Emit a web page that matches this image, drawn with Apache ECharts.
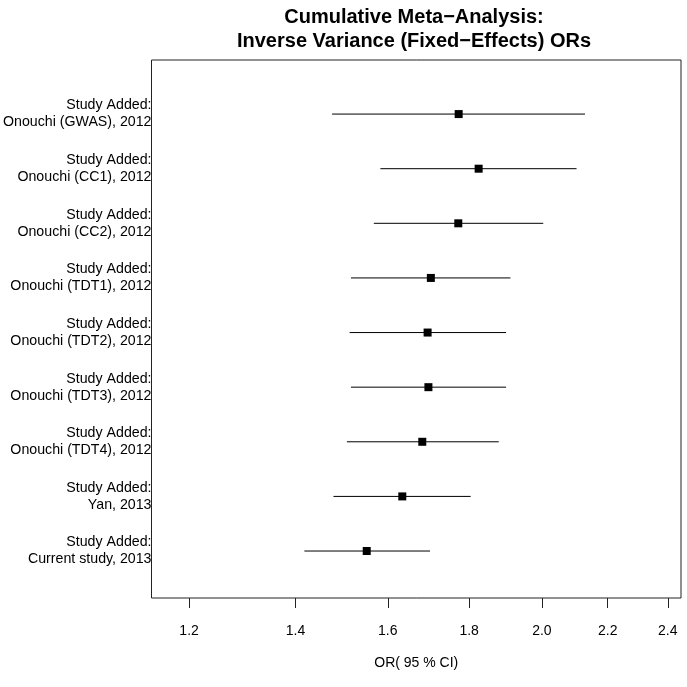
<!DOCTYPE html>
<html>
<head>
<meta charset="utf-8">
<script src="https://cdn.jsdelivr.net/npm/echarts@6/dist/echarts.min.js"></script>
<style>
  html, body { margin: 0; padding: 0; background: #fff; }
  #chart { width: 687px; height: 687px; }
</style>
</head>
<body>
<div id="chart"></div>
<script>
// rows from top to bottom
const studyLabels = [
  'Study Added:\nOnouchi (GWAS), 2012',
  'Study Added:\nOnouchi (CC1), 2012',
  'Study Added:\nOnouchi (CC2), 2012',
  'Study Added:\nOnouchi (TDT1), 2012',
  'Study Added:\nOnouchi (TDT2), 2012',
  'Study Added:\nOnouchi (TDT3), 2012',
  'Study Added:\nOnouchi (TDT4), 2012',
  'Study Added:\nYan, 2013',
  'Study Added:\nCurrent study, 2013'
];
const orPoint = [1.773, 1.825, 1.772, 1.703, 1.695, 1.697, 1.682, 1.634, 1.552];
const ciLower = [1.476, 1.583, 1.568, 1.517, 1.514, 1.517, 1.508, 1.479, 1.418];
const ciUpper = [2.129, 2.103, 2.004, 1.911, 1.899, 1.899, 1.879, 1.804, 1.701];

const tickValues = [1.2, 1.4, 1.6, 1.8, 2.0, 2.2, 2.4];
const tickLabels = ['1.2', '1.4', '1.6', '1.8', '2.0', '2.2', '2.4'];

// x axis is drawn on log scale (R log = "x")
const tickLogs = tickValues.map(v => Math.log(v));
const rowIdx = studyLabels.map((_, i) => i + 1);

const chart = echarts.init(document.getElementById('chart'), null, { renderer: 'canvas' });

const font = 'Liberation Sans, Arial, sans-serif';

const option = {
  animation: false,
  title: {
    text: 'Cumulative Meta\u2212Analysis:\nInverse Variance (Fixed\u2212Effects) ORs',
    left: 409,
    top: 0,
    textAlign: 'center',
    textStyle: {
      fontFamily: font,
      fontWeight: 'bold',
      fontSize: 20,
      lineHeight: 24,
      color: '#000'
    }
  },
  grid: {
    left: 150,
    right: 6,
    top: 60,
    bottom: 89,
    show: true,
    borderColor: '#222',
    borderWidth: 1,
    backgroundColor: 'transparent'
  },
  xAxis: {
    type: 'value',
    min: 0.1279,
    max: 0.8946,
    name: 'OR( 95 % CI)',
    nameLocation: 'middle',
    nameGap: 58,
    nameTextStyle: { fontFamily: font, fontSize: 14, color: '#000' },
    axisLine: { show: false },
    axisTick: {
      show: true,
      length: 10,
      customValues: tickLogs,
      lineStyle: { color: '#222', width: 1 }
    },
    axisLabel: {
      customValues: tickLogs,
      margin: 26,
      fontFamily: font,
      fontSize: 14,
      color: '#000',
      formatter: v => {
        const i = tickLogs.findIndex(t => Math.abs(t - v) < 1e-6);
        return i >= 0 ? tickLabels[i] : '';
      }
    },
    splitLine: { show: false }
  },
  yAxis: {
    type: 'value',
    inverse: true,
    min: 0.01,
    max: 9.86,
    axisLine: { show: false },
    axisTick: { show: false },
    splitLine: { show: false },
    axisLabel: {
      customValues: rowIdx,
      margin: 0,
      fontFamily: font,
      fontSize: 14.2,
      lineHeight: 17,
      color: '#000',
      align: 'right',
      formatter: v => studyLabels[Math.round(v) - 1] || ''
    }
  },
  series: [
    {
      type: 'custom',
      name: 'CI',
      data: rowIdx.map((r, i) => [Math.log(ciLower[i]), Math.log(ciUpper[i]), r]),
      encode: { x: [0, 1], y: 2 },
      renderItem: (params, api) => {
        const a = api.coord([api.value(0), api.value(2)]);
        const b = api.coord([api.value(1), api.value(2)]);
        return {
          type: 'line',
          shape: { x1: a[0], y1: a[1], x2: b[0], y2: b[1] },
          style: { stroke: '#000', lineWidth: 1 }
        };
      },
      z: 2
    },
    {
      type: 'scatter',
      name: 'OR',
      data: rowIdx.map((r, i) => [Math.log(orPoint[i]), r]),
      symbol: 'rect',
      symbolSize: 8,
      itemStyle: { color: '#000', opacity: 1 },
      z: 3
    }
  ]
};

chart.setOption(option);
</script>
</body>
</html>
